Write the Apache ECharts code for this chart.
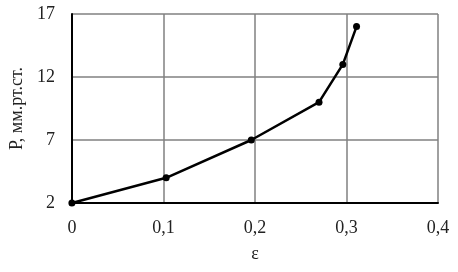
<!DOCTYPE html>
<html>
<head>
<meta charset="utf-8">
<script src="https://cdn.jsdelivr.net/npm/echarts@6/dist/echarts.min.js"></script>
<style>html,body{margin:0;padding:0;background:#fff}#c{width:458px;height:272px}</style>
</head>
<body>
<div id="c"></div>
<script>
var eps = [0, 0.103, 0.196, 0.27, 0.296, 0.311];
var pressure = [2, 4, 7, 10, 13, 16];
var xTicks = {min: 0, max: 0.4, interval: 0.1};
var yTicks = {min: 2, max: 17, interval: 5};
var xName = 'ε';
var yName = 'Р, мм.рт.ст.';

var chart = echarts.init(document.getElementById('c'), null, {renderer: 'canvas'});
var font = 'Liberation Serif';
var fs = 18;
chart.setOption({
  animation: false,
  backgroundColor: '#fff',
  grid: {left: 71, right: 20, top: 14, bottom: 69, containLabel: false},
  xAxis: {
    type: 'value', min: xTicks.min, max: xTicks.max, interval: xTicks.interval,
    name: xName, nameLocation: 'middle', nameGap: 42,
    nameTextStyle: {fontFamily: font, fontSize: fs, color: '#222'},
    axisLine: {show: true, onZero: false, lineStyle: {color: '#000', width: 2}},
    axisTick: {show: false},
    axisLabel: {fontFamily: font, fontSize: fs, color: '#222', margin: 16,
      formatter: function (v) { return v === 0 ? '0' : v.toFixed(1).replace('.', ','); }},
    splitLine: {show: true, lineStyle: {color: '#808080', width: 1.5}}
  },
  yAxis: {
    type: 'value', min: yTicks.min, max: yTicks.max, interval: yTicks.interval,
    name: yName, nameLocation: 'middle', nameGap: 43, nameRotate: 90,
    nameTextStyle: {fontFamily: font, fontSize: fs, color: '#222'},
    axisLine: {show: true, onZero: false, lineStyle: {color: '#000', width: 2}},
    axisTick: {show: false},
    axisLabel: {fontFamily: font, fontSize: fs, color: '#222', margin: 17},
    splitLine: {show: true, lineStyle: {color: '#808080', width: 1.5}}
  },
  series: [{
    type: 'line',
    data: eps.map(function (x, i) { return [x, pressure[i]]; }),
    symbol: 'circle', symbolSize: 7,
    lineStyle: {color: '#000', width: 2.5},
    itemStyle: {color: '#000'},
    clip: false
  }]
});
</script>
</body>
</html>
